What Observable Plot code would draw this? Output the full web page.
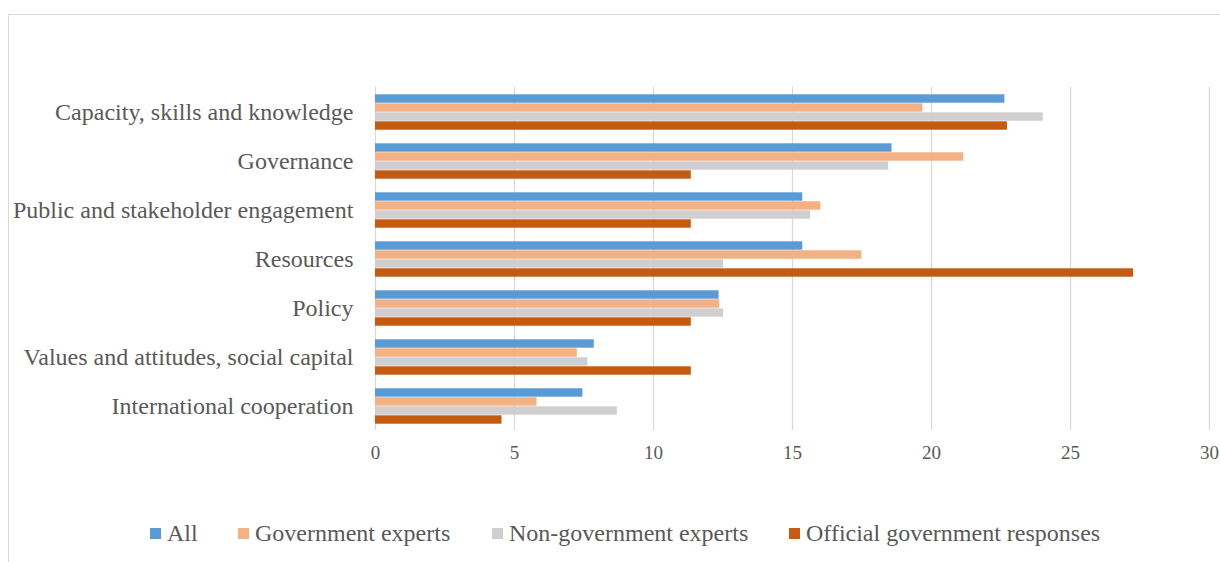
<!DOCTYPE html>
<html>
<head>
<meta charset="utf-8">
<script src="https://cdn.jsdelivr.net/npm/d3@7"></script>
<script src="https://cdn.jsdelivr.net/npm/@observablehq/plot@0.6"></script>
<style>
  html, body { margin: 0; padding: 0; background: #fff; }
  #wrap { position: relative; width: 1220px; height: 562px; overflow: hidden; font-family: "Liberation Serif", "Times New Roman", serif; }
  #frame { position: absolute; left: 8px; top: 14px; width: 1400px; height: 700px; border: 1.5px solid #d9d9d9; box-sizing: border-box; }
  #chart { position: absolute; left: 0; top: 0; }
  #legend { position: absolute; left: 0; top: 518px; width: 1220px; height: 30px; color: #595959; font-size: 24px; }
  .item { position: absolute; top: 0; display: flex; align-items: center; height: 30px; white-space: nowrap; }
  .sw { width: 11px; height: 11px; margin-right: 6px; }
</style>
</head>
<body>
<div id="wrap">
  <div id="frame"></div>
  <div id="chart"></div>
  <div id="legend"></div>
</div>
<script>
const categories = [
  "Capacity, skills and knowledge",
  "Governance",
  "Public and stakeholder engagement",
  "Resources",
  "Policy",
  "Values and attitudes, social capital",
  "International cooperation"
];
const series = ["All", "Government experts", "Non-government experts", "Official government responses"];
const allValues = [22.64, 18.58, 15.37, 15.37, 12.36, 7.87, 7.46];
const govExpertValues = [19.69, 21.16, 16.02, 17.50, 12.38, 7.26, 5.81];
const nonGovExpertValues = [24.02, 18.46, 15.65, 12.52, 12.52, 7.64, 8.70];
const officialValues = [22.73, 11.36, 11.36, 27.27, 11.36, 11.36, 4.55];
const xTicks = [0, 5, 10, 15, 20, 25, 30];
const colors = ["#5B9BD5", "#F4B183", "#D0CECE", "#C55A11"];

const valueLists = [allValues, govExpertValues, nonGovExpertValues, officialValues];
const data = [];
categories.forEach((c, i) => {
  series.forEach((s, j) => data.push({category: c, series: s, value: valueLists[j][i]}));
});

const chart = Plot.plot({
  width: 1220,
  height: 470,
  marginLeft: 375,
  marginRight: 11,
  marginTop: 86,
  marginBottom: 40,
  style: { fontFamily: "'Liberation Serif', 'Times New Roman', serif", background: "transparent", overflow: "visible", color: "#595959" },
  x: { domain: [0, 30], label: null },
  fy: { domain: categories, padding: 0, label: null },
  y: { domain: series, paddingInner: 0, paddingOuter: 0.5, axis: null },
  color: { domain: series, range: colors },
  marks: [
    Plot.gridX(xTicks, { stroke: "#d9d9d9", strokeOpacity: 1, strokeWidth: 1.3 }),
    Plot.barX(data, { x: "value", y: "series", fy: "category", fill: "series", insetTop: 0.3, insetBottom: 0.3 }),
    Plot.axisX(xTicks, { tickSize: 0, tickPadding: 15, fontSize: 19, fill: "#595959", label: null }),
    Plot.axisFy({ anchor: "left", tickSize: 0, tickPadding: 22, fontSize: 24, fill: "#595959", label: null })
  ]
});
document.getElementById("chart").appendChild(chart);

const legendX = [150, 238, 492, 789];
const legend = document.getElementById("legend");
series.forEach((s, i) => {
  const it = document.createElement("div");
  it.className = "item";
  it.style.left = legendX[i] + "px";
  it.innerHTML = `<span class="sw" style="background:${colors[i]}"></span><span>${s}</span>`;
  legend.appendChild(it);
});
</script>
</body>
</html>
